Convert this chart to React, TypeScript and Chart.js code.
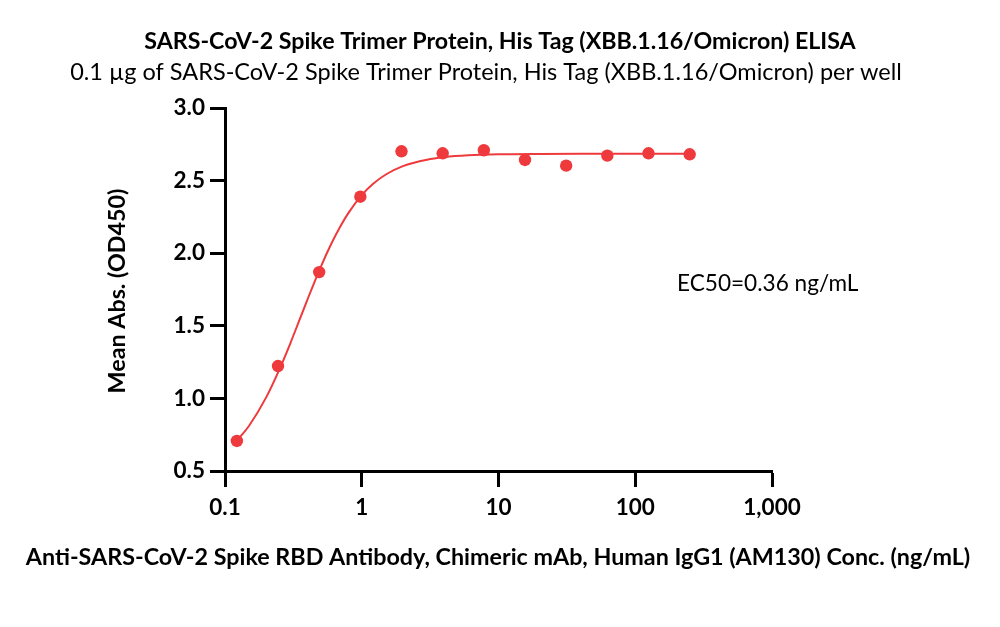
import React, { useEffect, useRef } from "react";
import { Chart, registerables } from "chart.js";

Chart.register(...registerables);

// ---- Data ----
const concentrations = [0.1221, 0.2441, 0.4883, 0.9766, 1.953, 3.906, 7.8125, 15.625, 31.25, 62.5, 125, 250];
const meanAbs = [0.707, 1.223, 1.870, 2.389, 2.702, 2.688, 2.709, 2.642, 2.603, 2.672, 2.688, 2.681];

// fitted curve
const fitConc = [0.1221, 0.15, 0.2, 0.25, 0.3, 0.35, 0.4, 0.5, 0.6, 0.7, 0.8, 1.0, 1.2, 1.5, 2, 3, 4, 6, 10, 20, 50, 100, 250];
const fitAbs = [0.709, 0.812, 1.007, 1.200, 1.378, 1.539, 1.679, 1.903, 2.067, 2.188, 2.278, 2.400, 2.475, 2.542, 2.600, 2.644, 2.661, 2.674, 2.681, 2.684, 2.685, 2.685, 2.685];

const xTickValues = [0.1, 1, 10, 100, 1000];
const xTickLabels = ["0.1", "1", "10", "100", "1,000"];
const yTickValues = [0.5, 1.0, 1.5, 2.0, 2.5, 3.0];

const titleText = "SARS-CoV-2 Spike Trimer Protein, His Tag (XBB.1.16/Omicron) ELISA";
const subtitleText = "0.1 \u00b5g of SARS-CoV-2 Spike Trimer Protein, His Tag (XBB.1.16/Omicron) per well";
const xTitle = "Anti-SARS-CoV-2 Spike RBD Antibody, Chimeric mAb, Human IgG1 (AM130) Conc. (ng/mL)";
const yTitle = "Mean Abs. (OD450)";
const ec50Text = "EC50=0.36 ng/mL";

const RED = "#EF3A3D";
const FONT = "Lato, 'Open Sans', sans-serif";

const textPlugin = {
  id: "texts",
  afterDraw(chart: any) {
    const ctx = chart.ctx;
    ctx.save();
    ctx.fillStyle = "#000";
    ctx.textAlign = "center";
    ctx.textBaseline = "middle";
    ctx.font = `bold 23.2px ${FONT}`;
    ctx.fillText(titleText, 500, 42);
    ctx.font = `23.5px ${FONT}`;
    ctx.fillText(subtitleText, 486, 72);
    ctx.font = `bold 23.3px ${FONT}`;
    ctx.fillText(xTitle, 498, 557);
    ctx.textAlign = "left";
    ctx.font = `22.6px ${FONT}`;
    ctx.fillText(ec50Text, 677, 284);
    ctx.translate(117, 291);
    ctx.rotate(-Math.PI / 2);
    ctx.textAlign = "center";
    ctx.font = `bold 23.3px ${FONT}`;
    ctx.fillText(yTitle, 0, 0);
    ctx.restore();
  },
};

export default function App() {
  const ref = useRef<HTMLCanvasElement | null>(null);
  useEffect(() => {
    if (!ref.current) return;
    const points = concentrations.map((x, i) => ({ x, y: meanAbs[i] }));
    const fit = fitConc.map((x, i) => ({ x, y: fitAbs[i] }));
    const chart = new Chart(ref.current, {
      type: "scatter",
      data: {
        datasets: [
          {
            type: "line",
            data: fit,
            borderColor: RED,
            borderWidth: 2,
            pointRadius: 0,
            fill: false,
            cubicInterpolationMode: "monotone",
            order: 2,
          } as any,
          {
            type: "scatter",
            data: points,
            backgroundColor: RED,
            borderColor: RED,
            borderWidth: 0,
            pointRadius: 6.2,
            order: 1,
          } as any,
        ],
      },
      options: {
        animation: false,
        responsive: false,
        devicePixelRatio: 1,
        layout: { padding: { top: 108, right: 228, bottom: 0, left: 0 } },
        plugins: { legend: { display: false }, tooltip: { enabled: false }, title: { display: false } },
        scales: {
          x: {
            type: "logarithmic",
            min: 0.1,
            max: 1000,
            afterBuildTicks: (s: any) => {
              s.ticks = xTickValues.map((v) => ({ value: v }));
            },
            afterFit: (s: any) => {
              s.height = 627 - 471;
            },
            ticks: {
              autoSkip: false,
              maxRotation: 0,
              color: "#000",
              padding: 7,
              font: { family: FONT, size: 22.5, weight: "bold" },
              callback: (v: any) => {
                const i = xTickValues.indexOf(Number(v));
                return i >= 0 ? xTickLabels[i] : "";
              },
            },
            grid: { drawOnChartArea: false, drawTicks: true, tickLength: 16, tickWidth: 3, tickColor: "#000" },
            border: { display: true, color: "#000", width: 3 },
          },
          y: {
            type: "linear",
            min: 0.5,
            max: 3.0,
            afterBuildTicks: (s: any) => {
              s.ticks = yTickValues.map((v) => ({ value: v }));
            },
            afterFit: (s: any) => {
              s.width = 225;
            },
            ticks: {
              color: "#000",
              padding: 5,
              font: { family: FONT, size: 22.5, weight: "bold" },
              callback: (v: any) => Number(v).toFixed(1),
            },
            grid: { drawOnChartArea: false, drawTicks: true, tickLength: 15, tickWidth: 3, tickColor: "#000" },
            border: { display: true, color: "#000", width: 3 },
          },
        },
      } as any,
      plugins: [textPlugin],
    });
    return () => chart.destroy();
  }, []);
  return (
    <div style={{ position: "fixed", left: 0, top: 0, width: 1000, height: 627, background: "#fff" }}>
      <canvas ref={ref} width={1000} height={627} style={{ display: "block" }} />
    </div>
  );
}
